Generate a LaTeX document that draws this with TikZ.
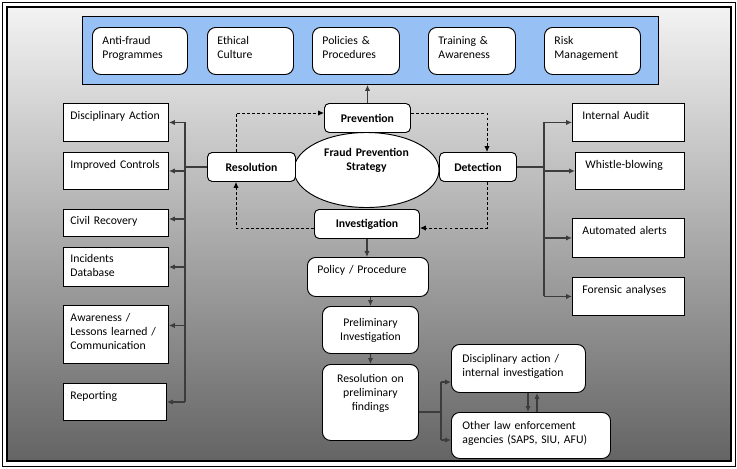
\documentclass[tikz,border=0pt]{standalone}
\usepackage{fontspec}
\setmainfont{Carlito}
\usepackage{xcolor}
\usetikzlibrary{arrows.meta,shapes.geometric}

\definecolor{bgtop}{RGB}{243,243,243}
\definecolor{bgmid}{RGB}{196,196,196}
\definecolor{bgbot}{RGB}{100,100,100}
\definecolor{progblue}{RGB}{151,193,244}
\definecolor{wire}{RGB}{60,60,60}

\begin{document}
\begin{tikzpicture}[x=0.03cm, y=-0.03cm,
  every node/.style={font=\fontsize{10}{12}\selectfont, line width=0.8pt},
  sidebox/.style 2 args={draw, fill=white, anchor=north west, align=left, inner xsep=0.21cm, inner ysep=0.18cm, text height=0.3cm, text width=#1, text depth=#2},
  pillbox/.style 2 args={sidebox={#1}{#2}, rounded corners=7pt, inner xsep=0.3cm, inner ysep=0.21cm},
  stage/.style={draw, fill=white, rounded corners=4pt, anchor=north west, minimum height=0.87cm, inner sep=0pt, font=\fontsize{10}{12}\selectfont\bfseries},
  conn/.style={draw=wire, line width=1.2pt},
  arr/.style={conn, -{Latex[length=5pt,width=4.5pt]}},
  cycle/.style={draw=black, line width=0.7pt, dash pattern=on 2.5pt off 1.8pt, -{Latex[length=5pt,width=4.5pt]}}]
\useasboundingbox (0,0) rectangle (737,468);

% Frame
\draw[line width=0.7pt] (2,2) rectangle (735,466);
\shade[top color=bgtop, middle color=bgmid, bottom color=bgbot] (7,7) rectangle (731,461);
\draw[line width=1.2pt] (7,7) rectangle (731,461);

% Programmes
\node[draw, fill=progblue, anchor=north west, minimum width=17.28cm, minimum height=2.04cm, inner sep=0pt] (prog) at (82,16) {};
\node[pillbox={2.25cm}{0.69cm}] (afp) at (92,27) {Anti-fraud\\Programmes};
\node[pillbox={1.98cm}{0.69cm}] (ethic) at (207,27) {Ethical\\Culture};
\node[pillbox={2.01cm}{0.69cm}] (policy) at (312,27) {Policies \&\\Procedures};
\node[pillbox={2.01cm}{0.69cm}] (train) at (428,27) {Training \&\\Awareness};
\node[pillbox={2.28cm}{0.69cm}] (risk) at (544,27) {Risk\\Management};

% Strategy
\node[draw, fill=white, ellipse, minimum width=4.35cm, minimum height=2.25cm, inner sep=0pt, align=center, text width=2.7cm, text height=0.3cm, text depth=1.12cm, font=\fontsize{10}{12}\selectfont\bfseries] (fps) at (366.5,170) {Fraud Prevention\\Strategy};
\node[stage, minimum width=2.58cm] (prev) at (324,103) {Prevention};
\node[stage, minimum width=2.64cm] (res) at (207,152) {Resolution};
\node[stage, minimum width=2.31cm] (det) at (439,152) {Detection};
\node[stage, minimum width=3.15cm] (inv) at (314,209) {Investigation};

% Resolution outcomes
\node[sidebox={2.73cm}{0.48cm}] (disc) at (63,103) {Disciplinary Action};
\node[sidebox={2.73cm}{0.45cm}] (impr) at (63,152) {Improved Controls};
\node[sidebox={2.73cm}{0.21cm}, inner ysep=0.15cm] (civ) at (63,209) {Civil Recovery};
\node[sidebox={2.73cm}{0.57cm}, inner ysep=0.15cm] (inc) at (63,247) {Incidents\\Database};
\node[sidebox={2.73cm}{1.08cm}] (aware) at (63,305) {Awareness /\\Lessons learned /\\Communication};
\node[sidebox={2.67cm}{0.45cm}] (rep) at (63,383) {Reporting};

% Detection means
\node[sidebox={2.76cm}{0.48cm}, inner xsep=0.3cm] (iaud) at (572,103) {Internal Audit};
\node[sidebox={2.67cm}{0.45cm}, inner xsep=0.3cm] (whis) at (575,152) {Whistle-blowing};
\node[sidebox={2.76cm}{0.51cm}, inner xsep=0.3cm] (auto) at (572,218) {Automated alerts};
\node[sidebox={2.76cm}{0.48cm}, inner xsep=0.3cm] (fore) at (572,277) {Forensic analyses};

% Investigation flow
\node[pillbox={3.03cm}{0.51cm}, inner ysep=0.18cm] (proc) at (307,257) {Policy / Procedure};
\node[draw, fill=white, rounded corners=7pt, anchor=north west, minimum height=1.41cm, align=center, text width=2.6cm, inner xsep=0.14cm] (prelim) at (322,306) {Preliminary\\Investigation};
\node[pillbox={2.58cm}{1.5cm}, align=center, inner xsep=0.15cm, inner ysep=0.24cm] (rofind) at (322,364) {Resolution on\\preliminary\\findings};
\node[pillbox={3.36cm}{0.66cm}, inner xsep=0.33cm, inner ysep=0.24cm] (disc2) at (451,344) {Disciplinary action /\\internal investigation};
\node[pillbox={4.11cm}{0.66cm}, inner xsep=0.33cm] (law) at (451,412) {Other law enforcement\\agencies (SAPS, SIU, AFU)};

% Bus points
\coordinate (lbusT) at ([xshift=0.48cm]disc.east);
\coordinate (lbusB) at ([xshift=0.54cm]rep.east);
\coordinate (civA) at ([yshift=0.12cm]civ.east);
\coordinate (awareA) at ([yshift=0.27cm]aware.east);
\coordinate (rbusT) at ([xshift=-0.84cm]iaud.west);
\coordinate (rbusB) at ([xshift=-0.84cm]fore.west);
\coordinate (fbusT) at ([xshift=-0.3cm,yshift=-1.14cm]disc2.north west);
\coordinate (fbusB) at ([xshift=-0.3cm,yshift=-0.84cm]law.north west);
\coordinate (rfout) at ([yshift=-1.44cm]rofind.north east);

%Lines
\draw[arr] (prev.north) -- (prev.north |- prog.south);
\draw[cycle] ([xshift=0.87cm]res.north west) |- ([yshift=-0.3cm]prev.north west);
\draw[cycle] ([yshift=-0.3cm]prev.north east) -| ([xshift=1.44cm]det.north west);
\draw[cycle] ([xshift=1.44cm]det.south west) |- ([yshift=-0.57cm]inv.north east);
\draw[cycle] ([yshift=-0.57cm]inv.north west) -| ([xshift=0.87cm]res.south west);

\draw[conn] (res.west) -- (res.west -| lbusT);
\draw[conn] (lbusT) -- (lbusB);
\draw[arr] (lbusT) -- (disc.east);
\draw[arr] (impr.east -| lbusT) -- (impr.east);
\draw[arr] (civA -| lbusT) -- (civA);
\draw[arr] (inc.east -| lbusT) -- (inc.east);
\draw[arr] (awareA -| lbusT) -- (awareA);
\draw[arr] (lbusB) -- (rep.east);

\draw[conn] (det.east) -- (det.east -| rbusT);
\draw[conn] (rbusT) -- (rbusB);
\draw[arr] (rbusT) -- (iaud.west);
\draw[arr] (whis.west -| rbusT) -- (whis.west);
\draw[arr] (auto.west -| rbusT) -- (auto.west);
\draw[arr] (rbusB) -- (fore.west);

\draw[arr] (inv.south) -- (inv.south |- proc.north);
\draw[arr] (proc.south -| prelim.north) -- (prelim.north);
\draw[arr] (prelim.south) -- (rofind.north);
\draw[conn] (rfout) -- (rfout -| fbusT);
\draw[conn] (fbusT) -- (fbusB);
\draw[arr] (fbusT) -- (fbusT -| disc2.west);
\draw[arr] (fbusB) -- (fbusB -| law.west);
\draw[arr] ([xshift=2.31cm]disc2.south west) -- ([xshift=2.31cm]law.north west);
\draw[arr] ([xshift=2.58cm]law.north west) -- ([xshift=2.58cm]disc2.south west);
\end{tikzpicture}
\end{document}
